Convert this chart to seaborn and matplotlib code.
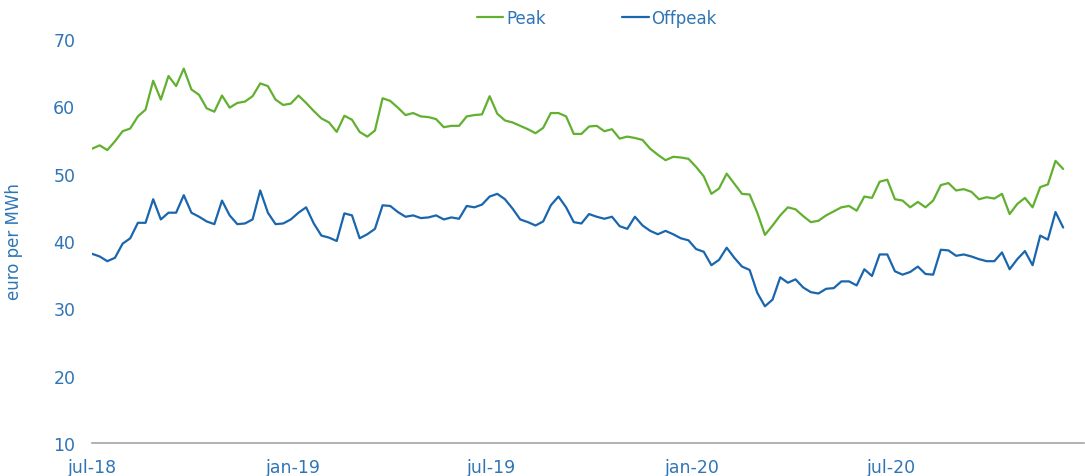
import pandas as pd
import matplotlib.pyplot as plt
import matplotlib.dates as mdates
from matplotlib.lines import Line2D
import seaborn as sns

# weekly values (euro per MWh)
start_date = '2018-07-01'
peak = [53.7, 54.2, 53.5, 54.8, 56.3, 56.7, 58.5, 59.5, 63.8, 61.0,
        64.5, 63.0, 65.6, 62.5, 61.7, 59.7, 59.2, 61.6, 59.8, 60.5,
        60.7, 61.5, 63.4, 63.0, 61.0, 60.2, 60.4, 61.6, 60.5, 59.3,
        58.2, 57.6, 56.2, 58.6, 58.0, 56.2, 55.5, 56.4, 61.2, 60.8,
        59.8, 58.7, 59.0, 58.5, 58.4, 58.1, 56.9, 57.1, 57.1, 58.5,
        58.7, 58.8, 61.5, 58.9, 57.9, 57.6, 57.1, 56.6, 56.0, 56.8,
        59.0, 59.0, 58.5, 55.9, 55.9, 57.0, 57.1, 56.3, 56.6, 55.2,
        55.5, 55.3, 55.0, 53.7, 52.8, 52.0, 52.5, 52.4, 52.2, 51.0,
        49.6, 47.0, 47.8, 50.0, 48.5, 47.0, 46.9, 44.2, 40.9, 42.3,
        43.8, 45.0, 44.7, 43.7, 42.8, 43.0, 43.8, 44.4, 45.0, 45.2,
        44.5, 46.6, 46.4, 48.8, 49.1, 46.2, 46.0, 45.0, 45.8, 45.0,
        46.0, 48.3, 48.6, 47.5, 47.7, 47.3, 46.2, 46.5, 46.3, 47.0,
        44.0, 45.5, 46.4, 45.0, 48.0, 48.4, 51.9, 50.7]
offpeak = [38.1, 37.7, 37.0, 37.5, 39.6, 40.4, 42.7, 42.7, 46.2, 43.2,
           44.2, 44.2, 46.8, 44.2, 43.6, 42.9, 42.5, 46.0, 43.8, 42.5,
           42.6, 43.2, 47.5, 44.2, 42.5, 42.6, 43.2, 44.2, 45.0, 42.6,
           40.8, 40.5, 40.0, 44.1, 43.8, 40.4, 41.0, 41.8, 45.3, 45.2,
           44.3, 43.6, 43.8, 43.4, 43.5, 43.8, 43.2, 43.5, 43.3, 45.2,
           45.0, 45.4, 46.6, 47.0, 46.2, 44.8, 43.2, 42.8, 42.3, 42.9,
           45.3, 46.6, 45.0, 42.8, 42.6, 44.0, 43.6, 43.3, 43.6, 42.2,
           41.8, 43.6, 42.3, 41.5, 41.0, 41.5, 41.0, 40.4, 40.1, 38.8,
           38.4, 36.4, 37.2, 39.0, 37.5, 36.2, 35.7, 32.3, 30.3, 31.3,
           34.6, 33.8, 34.3, 33.1, 32.4, 32.2, 32.9, 33.0, 34.0, 34.0,
           33.4, 35.8, 34.8, 38.0, 38.0, 35.5, 35.0, 35.4, 36.2, 35.1,
           35.0, 38.7, 38.6, 37.8, 38.0, 37.7, 37.3, 37.0, 37.0, 38.3,
           35.8, 37.3, 38.5, 36.4, 40.8, 40.2, 44.3, 42.0]
tick_dates = ['2018-07-01', '2019-01-01', '2019-07-01', '2020-01-01', '2020-07-01']
tick_labels = ['jul-18', 'jan-19', 'jul-19', 'jan-20', 'jul-20']

green = '#62B030'
blue = '#1A66AE'
text_blue = '#2F75B5'

dates = pd.date_range(start_date, periods=len(peak), freq='7D')
df = pd.DataFrame({'Date': list(dates) * 2,
                   'Price': peak + offpeak,
                   'Series': ['Peak'] * len(peak) + ['Offpeak'] * len(offpeak)})

sns.set_style('white')
plt.rcParams['font.family'] = ['DejaVu Sans']

fig = plt.figure(figsize=(10.85, 4.77), dpi=100)
ax = fig.add_axes([0.0848, 0.0692, 0.9142, 0.847])

sns.lineplot(data=df, x='Date', y='Price', hue='Series',
             palette={'Peak': green, 'Offpeak': blue}, linewidth=1.6, ax=ax)
ax.get_legend().remove()

ax.set_ylim(10, 70)
ax.set_yticks(range(10, 71, 10))
ax.set_xlim(pd.Timestamp('2018-07-01'), pd.Timestamp('2020-12-25'))
ax.set_xticks(pd.to_datetime(tick_dates))
ax.set_xticklabels(tick_labels)

ax.set_xlabel('')
ax.set_ylabel('euro per MWh', color=text_blue, fontsize=12, labelpad=22)

for side in ['top', 'right', 'left']:
    ax.spines[side].set_visible(False)
ax.spines['bottom'].set_color('#A6A6A6')
ax.spines['bottom'].set_linewidth(1.2)

ax.tick_params(axis='y', length=0, pad=12, labelsize=12.5, labelcolor=text_blue)
ax.tick_params(axis='x', length=5, width=1, color='#A6A6A6', direction='out',
               pad=6, labelsize=12.5, labelcolor=text_blue)
ax.grid(False)

handles = [Line2D([], [], color=green, linewidth=1.6),
           Line2D([], [], color=blue, linewidth=1.6)]
fig.legend(handles, ['Peak', 'Offpeak'], loc='upper center', bbox_to_anchor=(0.55, 1.01),
           ncol=2, frameon=False, handlelength=1.6, handletextpad=0.15,
           columnspacing=4.6, fontsize=12, labelcolor=text_blue)

fig.savefig('out.png', dpi=100)
